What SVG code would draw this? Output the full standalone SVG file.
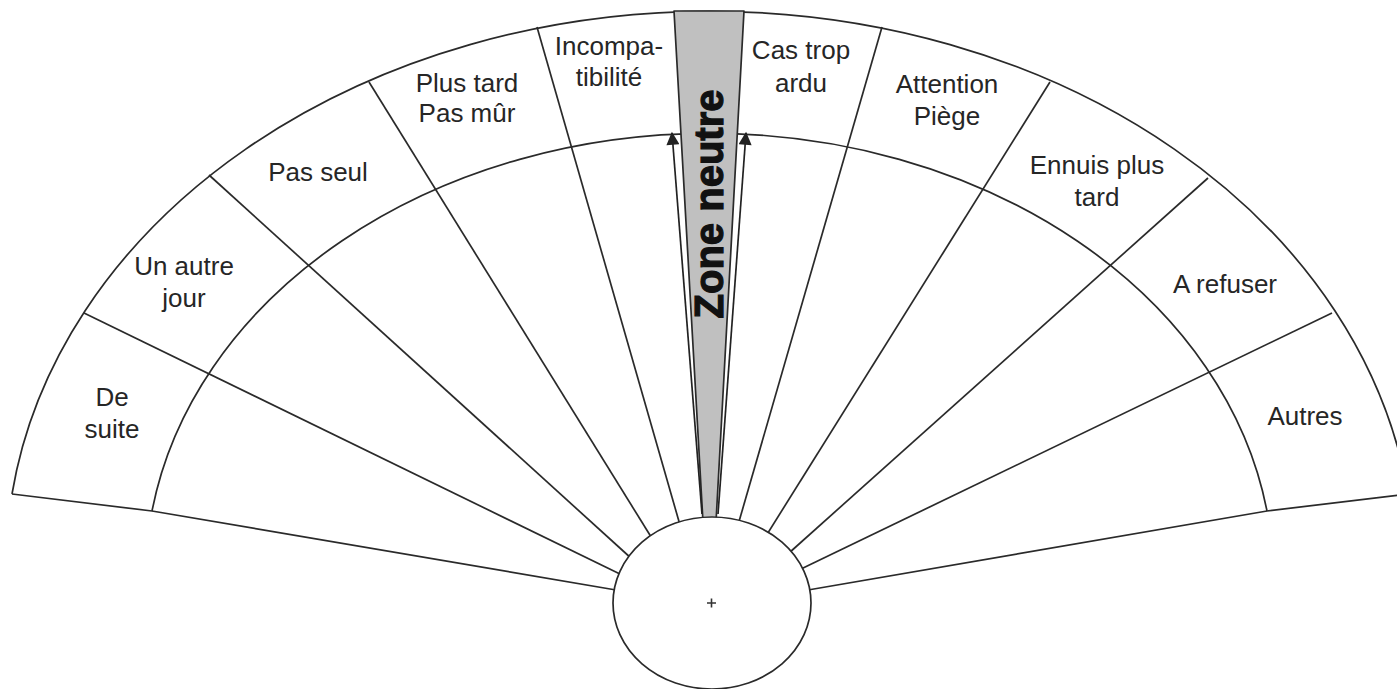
<svg xmlns="http://www.w3.org/2000/svg" width="1397" height="689" viewBox="0 0 1397 689">
<defs>
<style>
.ln{fill:none;stroke:#2a2a2a;stroke-width:1.7;stroke-linejoin:round}
.lb{font-family:"Liberation Sans",Arial,sans-serif;font-size:26px;fill:#262626;text-anchor:middle}
.zn{font-family:"Liberation Sans",Arial,sans-serif;font-size:40px;font-weight:bold;fill:#111;stroke:#111;stroke-width:1.2;text-anchor:middle}
.ar{fill:none;stroke:#222;stroke-width:1.7}
</style>
<marker id="ah" viewBox="0 0 10 10" refX="9" refY="5" markerWidth="15" markerHeight="13" markerUnits="userSpaceOnUse" orient="auto">
<path d="M0,0 L10,5 L0,10 Z" fill="#222"/>
</marker>
</defs>
<rect width="1397" height="689" fill="#fff"/>
<g id="fan">
<path class="ln" d="M12,494 A704,555 0 0 1 1408,494"/>
<path class="ln" d="M152,511 A564,445 0 0 1 1267,511"/>
<polyline class="ln" points="12,494 152,511 616,590"/>
<polyline class="ln" points="1408,494 1267,511 808,590"/>
<line class="ln" x1="84" y1="313" x2="622" y2="575"/>
<line class="ln" x1="209" y1="175" x2="632" y2="559"/>
<line class="ln" x1="369" y1="82" x2="653" y2="540"/>
<line class="ln" x1="537" y1="27" x2="680" y2="525"/>
<line class="ln" x1="882" y1="27" x2="738" y2="525"/>
<line class="ln" x1="1050" y1="82" x2="766" y2="536"/>
<line class="ln" x1="1208" y1="178" x2="789" y2="553"/>
<line class="ln" x1="1332" y1="313" x2="801" y2="569"/>
</g>
<g id="zone-neutre">
<polygon points="674,11 744,11 716,522 703,522" fill="#c0c0c0" stroke="#2a2a2a" stroke-width="1.7" stroke-linejoin="round"/>
<text class="zn" transform="translate(723,204) rotate(-90)">Zone neutre</text>
</g>
<g id="connectors">
<line class="ar" x1="702" y1="514" x2="672" y2="133" marker-end="url(#ah)"/>
<line class="ar" x1="718" y1="514" x2="746" y2="133" marker-end="url(#ah)"/>
</g>
<g id="centre">
<ellipse cx="712" cy="603" rx="99" ry="86" fill="#fff" stroke="#2a2a2a" stroke-width="1.7"/>
<path d="M707,603 H716 M711.5,598.5 V607.5" stroke="#333" stroke-width="1.6"/>
</g>
<g id="de-suite"><text class="lb" x="112" y="406">De</text><text class="lb" x="112" y="438">suite</text></g>
<g id="un-autre-jour"><text class="lb" x="184" y="275">Un autre</text><text class="lb" x="184" y="307">jour</text></g>
<g id="pas-seul"><text class="lb" x="318" y="181">Pas seul</text></g>
<g id="plus-tard"><text class="lb" x="467" y="92">Plus tard</text><text class="lb" x="467" y="122">Pas mûr</text></g>
<g id="incompatibilite"><text class="lb" x="609" y="55">Incompa-</text><text class="lb" x="609" y="86">tibilité</text></g>
<g id="cas-trop-ardu"><text class="lb" x="801" y="59">Cas trop</text><text class="lb" x="801" y="92">ardu</text></g>
<g id="attention-piege"><text class="lb" x="947" y="93">Attention</text><text class="lb" x="947" y="125">Piège</text></g>
<g id="ennuis-plus-tard"><text class="lb" x="1097" y="174">Ennuis plus</text><text class="lb" x="1097" y="206">tard</text></g>
<g id="a-refuser"><text class="lb" x="1225" y="293">A refuser</text></g>
<g id="autres"><text class="lb" x="1305" y="425">Autres</text></g>
</svg>
